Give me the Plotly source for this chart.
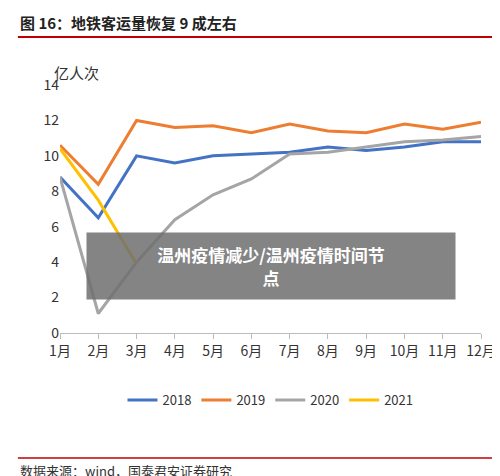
import plotly.graph_objects as go

months = ["1月","2月","3月","4月","5月","6月","7月","8月","9月","10月","11月","12月"]
s2018 = [8.8, 6.5, 10.0, 9.6, 10.0, 10.1, 10.2, 10.5, 10.3, 10.5, 10.8, 10.8]
s2019 = [10.6, 8.4, 12.0, 11.6, 11.7, 11.3, 11.8, 11.4, 11.3, 11.8, 11.5, 11.9]
s2020 = [8.8, 1.1, 4.0, 6.4, 7.8, 8.7, 10.1, 10.2, 10.5, 10.8, 10.9, 11.1]
s2021 = [10.4, 7.5, 3.9]
yticks = [0, 2, 4, 6, 8, 10, 12, 14]

font = "Noto Sans CJK SC"
fig = go.Figure()
for name, vals, col in [("2018", s2018, "#4472C4"), ("2019", s2019, "#ED7D31"),
                        ("2020", s2020, "#A5A5A5"), ("2021", s2021, "#FFC000")]:
    fig.add_trace(go.Scatter(x=months[:len(vals)], y=vals, name=name, mode="lines",
                             line=dict(color=col, width=3)))

fig.update_layout(
    width=500, height=476, plot_bgcolor="white", paper_bgcolor="white",
    margin=dict(l=52, r=15, t=77, b=151),
    font=dict(family=font, size=13, color="#333"),
    showlegend=True,
    legend=dict(orientation="h", x=0.5, xanchor="center", y=-0.27, yanchor="middle",
                font=dict(size=13)),
    xaxis=dict(showline=True, linecolor="#bbb", ticks="outside", tickcolor="#bbb",
               showgrid=False, tickfont=dict(size=14)),
    yaxis=dict(range=[0, 14], tickvals=yticks, showgrid=False, showline=False,
               tickfont=dict(size=14)),
    annotations=[
        dict(text="<b>图 16：地铁客运量恢复 9 成左右</b>", xref="paper", yref="paper",
             x=-0.1, y=1.2, xanchor="left", yanchor="bottom", showarrow=False,
             font=dict(size=15, color="#222")),
        dict(text="亿人次", xref="paper", yref="paper", x=-0.02, y=1.0, xanchor="left",
             yanchor="bottom", showarrow=False, font=dict(size=15)),
        dict(text="数据来源：wind，国泰君安证券研究", xref="paper", yref="paper",
             x=-0.1, y=-0.51, xanchor="left", yanchor="top", showarrow=False,
             font=dict(size=13, color="#333")),
        dict(text="<b>温州疫情减少/温州疫情时间节</b><br><b>点</b>", xref="paper", yref="paper",
             x=0.5, y=0.27, xanchor="center", yanchor="middle", showarrow=False,
             bgcolor="rgba(110,110,110,0.85)", font=dict(size=17, color="white"),
             width=366, height=64, align="center"),
    ],
    shapes=[
        dict(type="line", xref="paper", yref="paper", x0=-0.1, x1=1.03, y0=1.194, y1=1.194,
             line=dict(color="#C00000", width=2)),
        dict(type="line", xref="paper", yref="paper", x0=-0.1, x1=1.03, y0=-0.504, y1=-0.504,
             line=dict(color="#C00000", width=1.5)),
    ],
)
fig.write_html("out.html")
